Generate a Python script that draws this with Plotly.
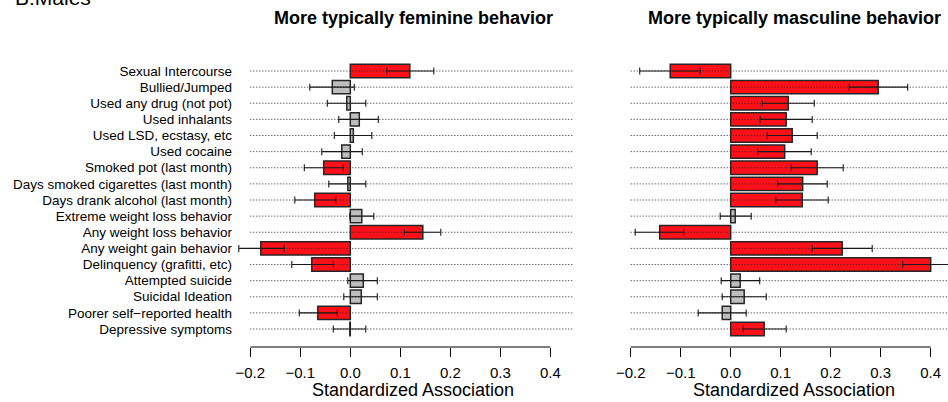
import plotly.graph_objects as go

# ---------------------------------------------------------------- data
behaviors = [
    "Sexual Intercourse",
    "Bullied/Jumped",
    "Used any drug (not pot)",
    "Used inhalants",
    "Used LSD, ecstasy, etc",
    "Used cocaine",
    "Smoked pot (last month)",
    "Days smoked cigarettes (last month)",
    "Days drank alcohol (last month)",
    "Extreme weight loss behavior",
    "Any weight loss behavior",
    "Any weight gain behavior",
    "Delinquency (grafitti, etc)",
    "Attempted suicide",
    "Suicidal Ideation",
    "Poorer self\u2212reported health",
    "Depressive symptoms",
]

# More typically feminine behavior: estimate and 95% interval
fem_est = [0.119, -0.036, -0.007, 0.018, 0.006, -0.017, -0.053, -0.005, -0.071,
           0.023, 0.145, -0.179, -0.077, 0.026, 0.022, -0.065, -0.001]
fem_lo = [0.073, -0.081, -0.046, -0.023, -0.032, -0.057, -0.092, -0.043, -0.111,
          -0.001, 0.108, -0.223, -0.117, -0.005, -0.013, -0.102, -0.034]
fem_hi = [0.167, 0.008, 0.031, 0.056, 0.043, 0.024, -0.014, 0.031, -0.029,
          0.047, 0.181, -0.132, -0.034, 0.054, 0.054, -0.026, 0.031]

# More typically masculine behavior: estimate and 95% interval
masc_est = [-0.121, 0.295, 0.115, 0.111, 0.123, 0.108, 0.173, 0.144, 0.143,
            0.009, -0.142, 0.223, 0.400, 0.019, 0.027, -0.017, 0.067]
masc_lo = [-0.182, 0.237, 0.063, 0.059, 0.073, 0.054, 0.121, 0.094, 0.090,
           -0.021, -0.191, 0.163, 0.344, -0.019, -0.017, -0.065, 0.025]
masc_hi = [-0.061, 0.354, 0.167, 0.163, 0.173, 0.161, 0.225, 0.193, 0.195,
           0.041, -0.094, 0.283, 0.456, 0.058, 0.071, 0.031, 0.111]

x_ticks = [-0.2, -0.1, 0.0, 0.1, 0.2, 0.3, 0.4]
panel_titles = ["More typically feminine behavior", "More typically masculine behavior"]
axis_title = "Standardized Association"
figure_tag = "B:Males"

# ---------------------------------------------------------------- layout geometry
W, H = 948, 402
FONT = "Liberation Sans, Arial, sans-serif"
MARGIN_T, MARGIN_B = 40, 55
PLOT_H = H - MARGIN_T - MARGIN_B
ROW_PX = 16.125          # vertical spacing between rows
FIRST_ROW_PX = 71        # pixel centre of the top row
PX_PER_UNIT = 500.0      # horizontal pixels per unit of association
ZERO_PX = [350.3, 730.7]  # pixel position of 0 in each panel
DOMAIN_PX = [(233.0, 590.0), (615.0, 948.0)]
GUIDE_RANGE = (-0.2, 0.445)

n = len(behaviors)
pos = list(range(n, 0, -1))          # top row gets the largest value


def row_at(py):
    return n - (py - FIRST_ROW_PX) / ROW_PX


def paper_x(px):
    return px / W


def paper_y(py):
    return (H - MARGIN_B - py) / PLOT_H


y_range = [row_at(H - MARGIN_B), row_at(MARGIN_T)]

RED, GREY, EDGE = "#FF0F17", "#BEBEBE", "#262626"

fig = go.Figure()
panels = [(fem_est, fem_lo, fem_hi), (masc_est, masc_lo, masc_hi)]

for k, (est, lo, hi) in enumerate(panels):
    xa = "x" if k == 0 else "x2"
    ya = "y" if k == 0 else "y2"
    # bars: red when the interval excludes zero
    colors = [RED if (l > 0 or h < 0) else GREY for l, h in zip(lo, hi)]
    fig.add_trace(go.Bar(
        y=pos, x=est, base=0, orientation="h", width=0.83,
        marker=dict(color=colors, line=dict(color=EDGE, width=1.5)),
        xaxis=xa, yaxis=ya, showlegend=False, hoverinfo="skip",
    ))
    # dotted guide line for every row
    gx, gy = [], []
    for p in pos:
        gx += [GUIDE_RANGE[0], GUIDE_RANGE[1], None]
        gy += [p, p, None]
    fig.add_trace(go.Scatter(
        x=gx, y=gy, mode="lines", xaxis=xa, yaxis=ya,
        line=dict(color="#262626", width=1, dash="1px,2px"),
        showlegend=False, hoverinfo="skip",
    ))
    # confidence intervals
    fig.add_trace(go.Scatter(
        x=est, y=pos, mode="markers", xaxis=xa, yaxis=ya,
        marker=dict(size=1, opacity=0),
        error_x=dict(type="data", symmetric=False,
                     array=[h - e for h, e in zip(hi, est)],
                     arrayminus=[e - l for e, l in zip(est, lo)],
                     color="#1a1a1a", thickness=1.1, width=3.5),
        showlegend=False, hoverinfo="skip",
    ))

axis_common = dict(
    tickvals=x_ticks, tickformat=".1f", ticks="outside", ticklen=9,
    tickwidth=1, tickcolor="black", showgrid=False, zeroline=False,
    showline=False, ticklabelstandoff=3,
    tickfont=dict(family=FONT, size=15, color="black"),
)
x_ranges = []
for k in range(2):
    d0, d1 = DOMAIN_PX[k]
    x_ranges.append([(d0 - ZERO_PX[k]) / PX_PER_UNIT, (d1 - ZERO_PX[k]) / PX_PER_UNIT])

fig.update_layout(
    width=W, height=H,
    margin=dict(l=0, r=0, t=MARGIN_T, b=MARGIN_B, pad=0),
    paper_bgcolor="white", plot_bgcolor="white",
    barmode="overlay",
    xaxis=dict(domain=[paper_x(DOMAIN_PX[0][0]), paper_x(DOMAIN_PX[0][1])],
               range=x_ranges[0], anchor="y", **axis_common),
    xaxis2=dict(domain=[paper_x(DOMAIN_PX[1][0]), paper_x(DOMAIN_PX[1][1])],
                range=x_ranges[1], anchor="y2", **axis_common),
    yaxis=dict(range=y_range, tickvals=pos, ticktext=behaviors, ticks="",
               showgrid=False, zeroline=False, showline=False, anchor="x",
               tickfont=dict(family=FONT, size=13.5, color="black")),
    yaxis2=dict(range=y_range, showticklabels=False, ticks="", anchor="x2",
                showgrid=False, zeroline=False, showline=False),
    font=dict(family=FONT, color="black"),
)

# R-style axis lines spanning only the tick range
for xr in ("x", "x2"):
    fig.add_shape(type="line", xref=xr, yref=("y domain" if xr == "x" else "y2 domain"),
                  x0=x_ticks[0], x1=x_ticks[-1], y0=0, y1=0,
                  line=dict(color="black", width=1))

title_centres = [413, 794]
for k in range(2):
    fig.add_annotation(text="<b>%s</b>" % panel_titles[k], xref="paper", yref="paper",
                       x=paper_x(title_centres[k]), y=paper_y(18.5), showarrow=False,
                       xanchor="center", yanchor="middle",
                       font=dict(family=FONT, size=18, color="black"))
    fig.add_annotation(text=axis_title, xref="paper", yref="paper",
                       x=paper_x(title_centres[k]), y=paper_y(390), showarrow=False,
                       xanchor="center", yanchor="middle",
                       font=dict(family=FONT, size=18, color="black"))

fig.add_annotation(text=figure_tag, xref="paper", yref="paper",
                   x=paper_x(13), y=paper_y(-2.5), showarrow=False,
                   xanchor="left", yanchor="middle",
                   font=dict(family=FONT, size=21, color="black"))

fig.write_html("out.html")
